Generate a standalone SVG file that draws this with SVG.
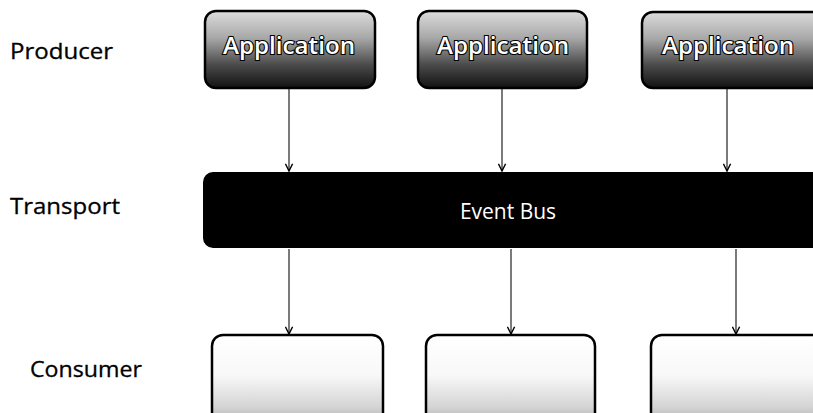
<svg xmlns="http://www.w3.org/2000/svg" width="813" height="413" viewBox="0 0 813 413">
  <defs>
    <linearGradient id="appGrad" x1="0" y1="0" x2="0" y2="1">
      <stop offset="0" stop-color="#dcdcdc"/>
      <stop offset="0.35" stop-color="#a8a8a8"/>
      <stop offset="0.7" stop-color="#4a4a4a"/>
      <stop offset="1" stop-color="#121212"/>
    </linearGradient>
    <linearGradient id="conGrad" x1="0" y1="0" x2="0" y2="1">
      <stop offset="0" stop-color="#ffffff"/>
      <stop offset="0.45" stop-color="#f8f8f8"/>
      <stop offset="0.8" stop-color="#d4d4d4"/>
      <stop offset="1" stop-color="#aaaaaa"/>
    </linearGradient>
    <marker id="arrow" viewBox="0 0 10 10" refX="9" refY="5" markerWidth="9" markerHeight="9" markerUnits="userSpaceOnUse" orient="auto">
      <path d="M1,1 L9,5 L1,9" fill="none" stroke="#000" stroke-width="1.6"/>
    </marker>
  </defs>
  <style>
    .label { font-family: "Open Sans", "Liberation Sans", sans-serif; font-size: 21px; fill: #000; stroke: #000; stroke-width: 0.3; }
    .app rect { fill: url(#appGrad); stroke: #000; stroke-width: 2.5; }
    .app text { font-family: "Open Sans", "Liberation Sans", sans-serif; font-size: 24px; font-weight: 600; fill: #fff; stroke: #000; stroke-width: 2.2; paint-order: stroke; text-anchor: middle; }
    .con rect { fill: url(#conGrad); stroke: #000; stroke-width: 2.5; }
    .bus rect { fill: #000; }
    .bus text { font-family: "Open Sans", "Liberation Sans", sans-serif; font-size: 21px; fill: #fff; text-anchor: middle; }
    .conn line { stroke: #222; stroke-width: 1.2; marker-end: url(#arrow); }
  </style>
  <rect width="813" height="413" fill="#fff"/>

  <g id="labels">
    <text class="label" x="10" y="59" textLength="103" lengthAdjust="spacingAndGlyphs">Producer</text>
    <text class="label" x="10" y="214" textLength="110" lengthAdjust="spacingAndGlyphs">Transport</text>
    <text class="label" x="30" y="377" textLength="112" lengthAdjust="spacingAndGlyphs">Consumer</text>
  </g>

  <g id="app1" class="app">
    <rect x="205" y="11" width="170" height="77" rx="11"/>
    <text x="289" y="54" textLength="132" lengthAdjust="spacingAndGlyphs">Application</text>
  </g>
  <g id="app2" class="app">
    <rect x="418" y="11" width="169" height="77" rx="11"/>
    <text x="503" y="54" textLength="132" lengthAdjust="spacingAndGlyphs">Application</text>
  </g>
  <g id="app3" class="app">
    <rect x="642" y="12" width="185" height="76" rx="11"/>
    <text x="728" y="54" textLength="132" lengthAdjust="spacingAndGlyphs">Application</text>
  </g>

  <g id="bus" class="bus">
    <rect x="203" y="172" width="630" height="76" rx="10"/>
    <text x="508" y="219">Event Bus</text>
  </g>

  <g id="con1" class="con">
    <rect x="212" y="335" width="171" height="90" rx="11"/>
  </g>
  <g id="con2" class="con">
    <rect x="426" y="335" width="169" height="90" rx="11"/>
  </g>
  <g id="con3" class="con">
    <rect x="651" y="335" width="180" height="90" rx="11"/>
  </g>

  <g id="connectors" class="conn">
    <line x1="289" y1="89" x2="289" y2="171"/>
    <line x1="502" y1="89" x2="502" y2="171"/>
    <line x1="727" y1="89" x2="727" y2="171"/>
    <line x1="289" y1="249" x2="289" y2="334"/>
    <line x1="511" y1="249" x2="511" y2="334"/>
    <line x1="736" y1="249" x2="736" y2="334"/>
  </g>
</svg>
